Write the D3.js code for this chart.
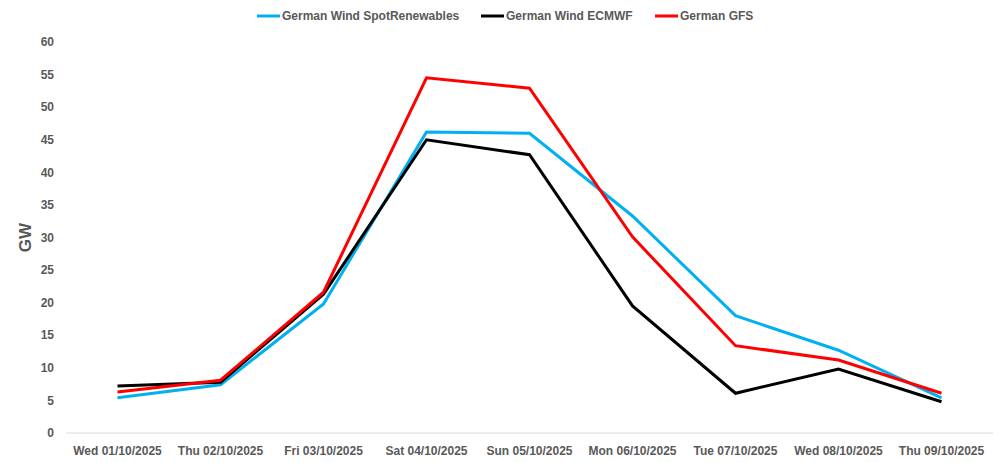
<!DOCTYPE html>
<html><head><meta charset="utf-8">
<script src="https://cdn.jsdelivr.net/npm/d3@7"></script>
<style>body{margin:0;background:#fff}text{font-family:"Liberation Sans",Arial,sans-serif;font-weight:bold;fill:#595959}</style>
</head><body><svg id="c" width="1006" height="463"></svg>
<script>
const categories = ["Wed 01/10/2025","Thu 02/10/2025","Fri 03/10/2025","Sat 04/10/2025","Sun 05/10/2025","Mon 06/10/2025","Tue 07/10/2025","Wed 08/10/2025","Thu 09/10/2025"];
const spotRenewables = [5.4, 7.4, 19.8, 46.2, 46.0, 33.3, 18.0, 12.7, 5.4];
const ecmwf = [7.2, 7.8, 21.3, 45.0, 42.7, 19.5, 6.1, 9.8, 4.8];
const gfs = [6.3, 8.1, 21.6, 54.5, 52.9, 30.1, 13.4, 11.2, 6.1];
const yTicks = [0,5,10,15,20,25,30,35,40,45,50,55,60];
const seriesNames = ["German Wind SpotRenewables","German Wind ECMWF","German GFS"];
const seriesColors = ["#00B0F0","#000000","#FF0000"];

const svg = d3.select("#c");
const x = d3.scaleBand().domain(categories).range([66, 993]);
const y = d3.scaleLinear().domain([0,60]).range([433, 42]);

svg.append("g").selectAll("text").data(yTicks).join("text")
  .attr("x", 54).attr("y", d => y(d)).attr("dy","0.35em")
  .attr("text-anchor","end").attr("font-size","12px").text(d => d);

svg.append("line").attr("x1",66).attr("x2",993).attr("y1",y(0)).attr("y2",y(0))
  .attr("stroke","#d9d9d9").attr("stroke-width",1);

svg.append("g").selectAll("text").data(categories).join("text")
  .attr("x", d => x(d)+x.bandwidth()/2).attr("y", 455)
  .attr("text-anchor","middle").attr("font-size","12px").text(d => d);

svg.append("text").attr("transform","translate(31,"+y(30)+") rotate(-90)")
  .attr("text-anchor","middle").attr("font-size","17px").text("GW");

const line = d3.line().x((d,i)=>x(categories[i])+x.bandwidth()/2).y(d=>y(d));
const allSeries = [spotRenewables, ecmwf, gfs];
allSeries.forEach((s,i)=>{
  svg.append("path").datum(s).attr("d",line).attr("fill","none")
    .attr("stroke",seriesColors[i]).attr("stroke-width",3).attr("stroke-linejoin","miter");
});

const legX = [257, 481, 655];
seriesNames.forEach((n,i)=>{
  svg.append("line").attr("x1",legX[i]).attr("x2",legX[i]+23).attr("y1",16).attr("y2",16)
    .attr("stroke",seriesColors[i]).attr("stroke-width",3);
  svg.append("text").attr("x",legX[i]+25).attr("y",16).attr("dy","0.35em")
    .attr("font-size","12px").text(n);
});
</script></body></html>
